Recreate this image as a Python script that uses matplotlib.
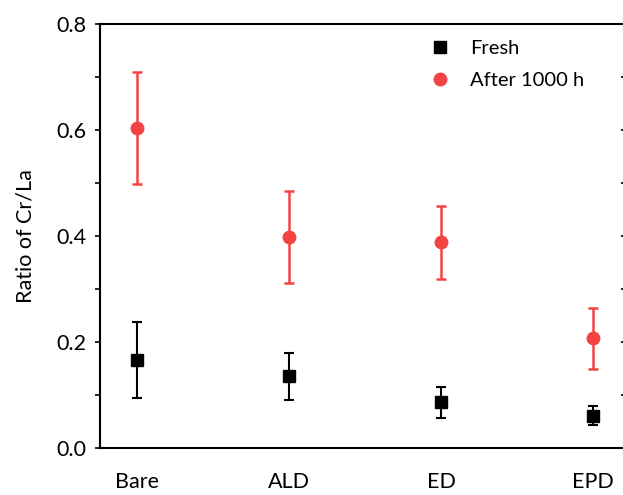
import matplotlib
matplotlib.use("Agg")
import matplotlib.pyplot as plt
from matplotlib.ticker import MultipleLocator
from matplotlib.lines import Line2D

# data
samples = ["Bare", "ALD", "ED", "EPD"]
fresh = [0.166, 0.135, 0.086, 0.061]
fresh_err = [0.071, 0.044, 0.030, 0.018]
aged = [0.604, 0.398, 0.388, 0.207]
aged_err = [0.105, 0.087, 0.069, 0.058]

RED = "#F44343"

plt.rcParams["font.family"] = ["Lato", "DejaVu Sans"]

fig = plt.figure(figsize=(6.23, 4.95), dpi=100)
ax = fig.add_axes([100 / 623, 47 / 495, 526 / 623, 424 / 495])

x = range(len(samples))
ax.errorbar(x, fresh, yerr=fresh_err, fmt="s", color="black", ms=8,
            elinewidth=1.5, capsize=3.5, capthick=1.5, zorder=3)
ax.errorbar(x, aged, yerr=aged_err, fmt="o", color=RED, ms=9,
            elinewidth=1.8, capsize=3.8, capthick=1.8, zorder=3)

ax.set_xlim(-0.243, 3.217)
ax.set_ylim(0, 0.8)
ax.set_xticks(list(x))
ax.set_xticklabels(samples)
ax.yaxis.set_major_locator(MultipleLocator(0.2))
ax.yaxis.set_minor_locator(MultipleLocator(0.1))
ax.yaxis.set_major_formatter(matplotlib.ticker.FormatStrFormatter("%.1f"))

for s in ax.spines.values():
    s.set_linewidth(1.5)
ax.spines["right"].set_visible(False)

ax.tick_params(axis="x", length=0, pad=17, labelsize=15.5)
ax.tick_params(axis="y", which="both", length=3.5, width=1.2,
               labelsize=15.5, pad=6, left=True, right=True)
# left ticks point out, right ticks in
for t in ax.yaxis.get_major_ticks() + ax.yaxis.get_minor_ticks():
    t.tick1line.set_marker(matplotlib.lines.TICKLEFT)
    t.tick2line.set_marker(matplotlib.lines.TICKLEFT)

ax.set_ylabel("Ratio of Cr/La", fontsize=15.5, labelpad=15)

handles = [
    Line2D([], [], ls="none", marker="s", color="black", ms=8),
    Line2D([], [], ls="none", marker="o", color=RED, ms=9),
]
ax.legend(handles, ["Fresh", "After 1000 h"], loc="upper left",
          bbox_to_anchor=((430 - 100) / 526, (448 - 40) / 424),
          frameon=False, fontsize=14.5, handlelength=1.0, handletextpad=1.0,
          borderpad=0, borderaxespad=0, labelspacing=0.75)

fig.savefig("out.png", dpi=100)
